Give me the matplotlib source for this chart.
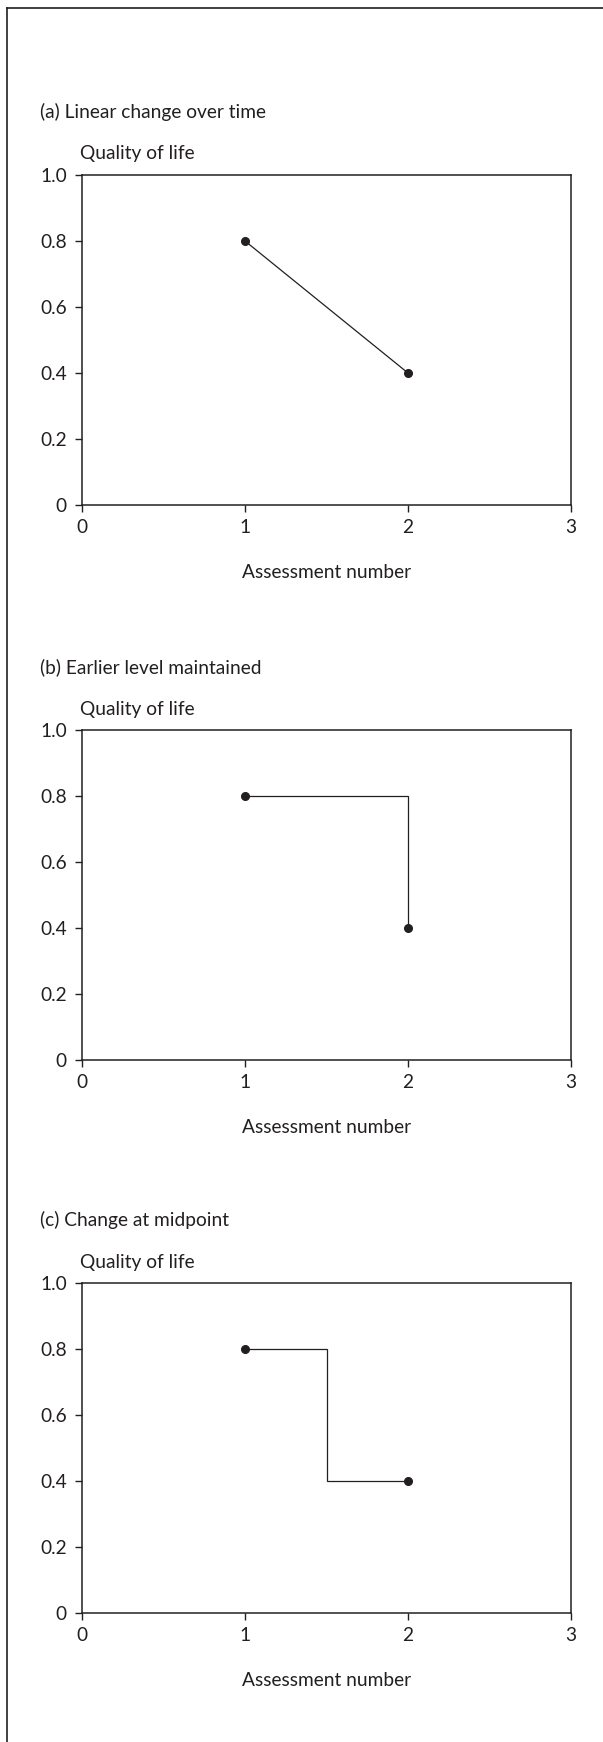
import matplotlib
matplotlib.use("Agg")
import matplotlib.pyplot as plt
from matplotlib.lines import Line2D

plt.rcParams['font.family'] = ['Lato', 'DejaVu Sans']

titles = ["(a) Linear change over time", "(b) Earlier level maintained", "(c) Change at midpoint"]
# line paths per panel (x, y)
path_x = [[1, 2], [1, 2, 2], [1, 1.5, 1.5, 2]]
path_y = [[0.8, 0.4], [0.8, 0.8, 0.4], [0.8, 0.8, 0.4, 0.4]]
point_x = [1, 2]
point_y = [0.8, 0.4]
xticks = [0, 1, 2, 3]
xticklabels = ["0", "1", "2", "3"]
yticks = [0, 0.2, 0.4, 0.6, 0.8, 1.0]
yticklabels = ["0", "0.2", "0.4", "0.6", "0.8", "1.0"]
ylabel = "Quality of life"
xlabel = "Assessment number"

W, H = 603, 1742
fig = plt.figure(figsize=(W / 100, H / 100), dpi=100)

ink = "#231f20"
fs = 13.8
left_px, right_px = 82, 571
tops_px = [175, 730, 1283]
height_px = 330

for i in range(3):
    top = tops_px[i]
    ax = fig.add_axes([left_px / W, 1 - (top + height_px) / H,
                       (right_px - left_px) / W, height_px / H])
    ax.plot(path_x[i], path_y[i], color=ink, lw=0.9, solid_joinstyle='miter')
    ax.plot(point_x, point_y, 'o', color=ink, ms=5.5, lw=0)
    ax.set_xlim(0, 3)
    ax.set_ylim(0, 1.0)
    ax.set_xticks(xticks)
    ax.set_xticklabels(xticklabels)
    ax.set_yticks(yticks)
    ax.set_yticklabels(yticklabels)
    for s in ax.spines.values():
        s.set_linewidth(1.1)
        s.set_color(ink)
    ax.tick_params(direction='out', length=5, width=1.0, color=ink,
                   labelsize=fs, labelcolor=ink)
    ax.tick_params(axis='y', pad=6)
    ax.tick_params(axis='x', pad=5)
    fig.text(40 / W, 1 - (top - 63) / H, titles[i], fontsize=fs, color=ink,
             ha='left', va='center')
    fig.text(80 / W, 1 - (top - 21) / H, ylabel, fontsize=fs, color=ink,
             ha='left', va='center')
    fig.text((left_px + right_px) / 2 / W, 1 - (top + height_px + 67) / H, xlabel,
             fontsize=fs, color=ink, ha='center', va='center')

# outer frame (top and left edges)
fig.add_artist(Line2D([6.5 / W, 6.5 / W], [0, 1 - 8 / H], transform=fig.transFigure,
                      color=ink, lw=1.2))
fig.add_artist(Line2D([6.5 / W, 1], [1 - 8 / H, 1 - 8 / H], transform=fig.transFigure,
                      color=ink, lw=1.2))

fig.savefig("out.png", dpi=100, facecolor='white')
